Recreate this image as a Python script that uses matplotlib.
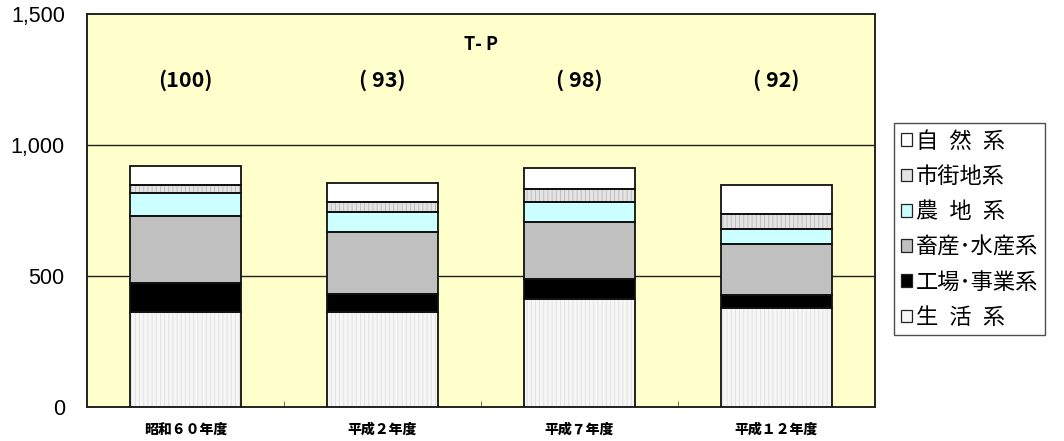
import numpy as np
import matplotlib
matplotlib.use("Agg")
import matplotlib.pyplot as plt
from matplotlib.patches import Patch

plt.rcParams['font.family'] = ['Noto Sans CJK JP', 'DejaVu Sans']
plt.rcParams['hatch.linewidth'] = 0.6

years = ['昭和６０年度', '平成２年度', '平成７年度', '平成１２年度']
index_labels = ['(100)', '( 93)', '( 98)', '( 92)']

# loads per source, bottom to top of each stack
seikatsu = [364, 364, 412, 377]     # 生活系
kojo = [110, 68, 75, 50]            # 工場・事業系
chikusan = [255, 237, 219, 195]     # 畜産・水産系
nochi = [86, 76, 75, 57]            # 農地系
shigaichi = [32, 36, 51, 56]        # 市街地系
shizen = [74, 75, 79, 112]          # 自然系

sp2 = '\u2002'
series = [
    (sp2.join('生活系'), seikatsu, '#f6f6f6', '||||', '#dedede'),
    ('工場･事業系', kojo, '#000000', None, None),
    ('畜産･水産系', chikusan, '#c0c0c0', None, None),
    (sp2.join('農地系'), nochi, '#ccffff', None, None),
    ('市街地系', shigaichi, '#e4e4e4', '||||', '#b8b8b8'),
    (sp2.join('自然系'), shizen, '#ffffff', None, None),
]

fig = plt.figure(figsize=(10.64, 4.41), dpi=100)
ax = fig.add_axes([87 / 1064, 34 / 441, 788 / 1064, 393 / 441])
ax.set_facecolor('#ffffcc')

x = np.arange(len(years))
width = 0.56
bottom = np.zeros(len(years))
handles = []
for name, vals, fc, hatch, hc in series:
    vals = np.array(vals, dtype=float)
    if hatch:
        ax.bar(x, vals, width, bottom=bottom, color=fc, hatch=hatch,
               edgecolor=hc, linewidth=0, zorder=3)
    else:
        ax.bar(x, vals, width, bottom=bottom, color=fc, linewidth=0, zorder=3)
    ax.bar(x, vals, width, bottom=bottom, fill=False, edgecolor='#111111',
           linewidth=1.3, zorder=4)
    handles.append(Patch(facecolor=fc, edgecolor='#222222', linewidth=0.9,
                         label=name))
    bottom += vals

ax.set_xlim(-0.5, len(years) - 0.5)
ax.set_ylim(0, 1500)
ax.set_yticks([0, 500, 1000, 1500])
ax.set_yticklabels(['0', '500', '1,000', '1,500'], family='Liberation Sans',
                   fontsize=15.5)
ax.tick_params(axis='y', length=0, pad=16)
ax.set_xticks(x)
ax.set_xticklabels(years, fontsize=10, fontweight='black')
ax.tick_params(axis='x', length=0, pad=11)
ax.set_xticks(np.arange(0.5, len(years) - 1, 1.0), minor=True)
ax.tick_params(axis='x', which='minor', direction='in', length=4,
               color='#555555')
for yv in (500, 1000):
    ax.axhline(yv, color='#222222', linewidth=1.0, zorder=1)
for sp in ax.spines.values():
    sp.set_linewidth(1.4)
    sp.set_color('#222222')

ax.text(np.mean(x), 1382, 'T- P', ha='center', va='center', fontsize=13,
        fontweight='bold')
for xi, lab in zip(x, index_labels):
    ax.text(xi, 1248, lab, ha='center', va='center', fontsize=15.5,
            fontweight='bold')

fig.legend(handles=handles[::-1], loc='upper left',
           bbox_to_anchor=(894 / 1064, 1 - 123 / 441), fontsize=16,
           frameon=True, fancybox=False, edgecolor='#222222',
           handlelength=0.5, handleheight=0.5, handletextpad=0.2,
           labelspacing=0.55, borderpad=0.3, borderaxespad=0)

fig.savefig('out.png', dpi=100)
